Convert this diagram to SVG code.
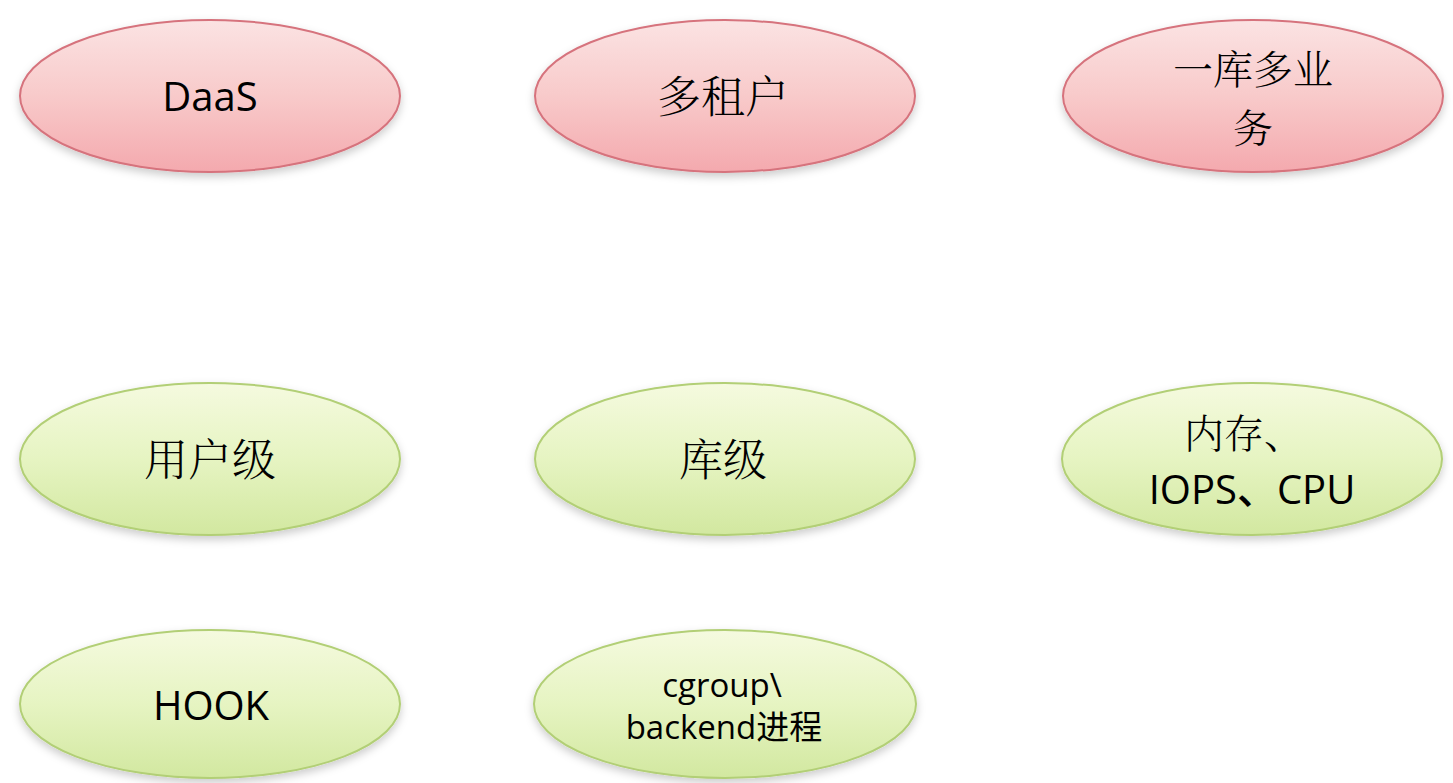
<svg xmlns="http://www.w3.org/2000/svg" width="1453" height="783" viewBox="0 0 1453 783">
<defs>
<linearGradient id="pink" x1="0" y1="0" x2="0" y2="1">
<stop offset="0" stop-color="#fbe3e3"/>
<stop offset="0.5" stop-color="#f8caca"/>
<stop offset="1" stop-color="#f4a9ae"/>
</linearGradient>
<linearGradient id="green" x1="0" y1="0" x2="0" y2="1">
<stop offset="0" stop-color="#f5fadf"/>
<stop offset="0.5" stop-color="#e6f4c2"/>
<stop offset="1" stop-color="#d2e8a0"/>
</linearGradient>
<filter id="sh" x="-10%" y="-20%" width="120%" height="150%">
<feDropShadow dx="0" dy="4" stdDeviation="4" flood-color="#000" flood-opacity="0.2"/>
</filter>
<style>
.p{fill:url(#pink);stroke:#d6737d;stroke-width:2;filter:url(#sh)}
.g{fill:url(#green);stroke:#b2cf76;stroke-width:2;filter:url(#sh)}
.t{font-family:"Open Sans","Liberation Sans","Noto Sans CJK SC",sans-serif;font-size:40px;font-weight:500;fill:#000;text-anchor:middle}
.c{font-family:"Noto Serif CJK SC","Noto Sans CJK SC",serif;font-size:44px;font-weight:300;fill:#000;text-anchor:middle}
.c2{font-family:"Noto Serif CJK SC","Noto Sans CJK SC",serif;font-size:40px;font-weight:300;fill:#000;text-anchor:middle}
.s{font-family:"Open Sans","Liberation Sans","Noto Sans CJK SC",sans-serif;font-size:33px;fill:#000;text-anchor:middle}
</style>
</defs>
<rect width="1453" height="783" fill="#fff"/>
<g id="daas"><ellipse class="p" cx="210" cy="96" rx="190" ry="76"/><text class="t" x="210" y="111">DaaS</text></g>
<g id="multitenant"><ellipse class="p" cx="725" cy="96" rx="190" ry="76"/><text class="c" x="723" y="113">多租户</text></g>
<g id="onedb"><ellipse class="p" cx="1253" cy="96" rx="190" ry="76"/><text class="c2" x="1253" y="84">一库多业</text><text class="c2" x="1253" y="143">务</text></g>
<g id="userlevel"><ellipse class="g" cx="210" cy="459" rx="190" ry="76"/><text class="c" x="210" y="476">用户级</text></g>
<g id="dblevel"><ellipse class="g" cx="725" cy="459" rx="190" ry="76"/><text class="c" x="723" y="476">库级</text></g>
<g id="resources"><ellipse class="g" cx="1252" cy="459" rx="190" ry="76"/><text class="c2" x="1244" y="448">内存、</text><text class="t" x="1252" y="504">IOPS、CPU</text></g>
<g id="hook"><ellipse class="g" cx="210" cy="704" rx="190" ry="74"/><text class="t" x="211" y="720">HOOK</text></g>
<g id="cgroup"><ellipse class="g" cx="725" cy="704" rx="191" ry="74"/><text class="s" x="722" y="697">cgroup\</text><text class="s" x="724" y="739">backend进程</text></g>
<g id="connectors"/>
</svg>
